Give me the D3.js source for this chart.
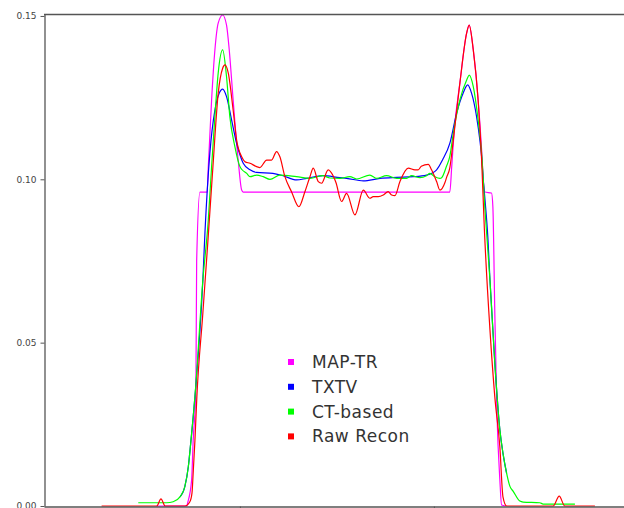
<!DOCTYPE html>
<html>
<head>
<meta charset="utf-8">
<script src="https://cdn.jsdelivr.net/npm/d3@7"></script>
<style>
  html, body { margin: 0; padding: 0; background: #fff; }
  svg { display: block; }
</style>
</head>
<body>
<svg id="chart" width="624" height="508"></svg>
<script>
// ---- data ----
const seriesNames = ["MAP-TR", "TXTV", "CT-based", "Raw Recon"];
const seriesColors = ["#ff00ff", "#0000ff", "#00ff00", "#ff0000"];
const yTicks = [0.00, 0.05, 0.10, 0.15];
const xTicks = [100, 200];

const mapTR = [[57,0],[72.5,0],[73.2,0.0013],[75.1,0.008],[75.9,0.020],[77.3,0.036],[77.7,0.075],[79.4,0.0961],[83.1,0.0961],[83.7,0.1039],[85.4,0.1243],[87.1,0.1396],[88.8,0.1478],[91.1,0.1503],[93.1,0.1472],[94.5,0.1396],[96.5,0.1243],[99.1,0.1059],[100.9,0.0967],[101.7,0.0961],[208.2,0.0961],[209.2,0.104],[210.5,0.115],[213.4,0.1295],[216.9,0.1448],[218.2,0.1472],[220.3,0.1396],[222.8,0.1243],[224.6,0.109],[225.6,0.0985],[226.3,0.0961],[229.7,0.0958],[230.4,0.0916],[231.4,0.0591],[232.5,0.0285],[234,0.008],[234.9,0.0003],[237,0]];

const txtv = [[69.1,0.0028],[71.6,0.0059],[73.4,0.012],[74.6,0.019],[76.8,0.0334],[80.9,0.0692],[82,0.084],[84.5,0.108],[87.1,0.1212],[89.3,0.1263],[91.1,0.1276],[93.1,0.1253],[95.7,0.1182],[98.3,0.111],[100,0.1075],[101.7,0.1049],[105.2,0.1029],[108.6,0.1021],[117,0.1018],[122.2,0.1011],[129.2,0.0998],[134.4,0.1003],[142.8,0.1011],[151.5,0.1005],[155,0.1003],[163.6,0.0995],[172.2,0.1003],[180.8,0.1006],[189.3,0.1008],[196.2,0.1013],[201.4,0.1029],[204.5,0.106],[208.2,0.111],[211.7,0.1202],[215.1,0.1264],[217.4,0.1289],[219.4,0.1264],[222,0.1192],[223.7,0.112],[224.6,0.1069],[225.3,0.101],[226.3,0.094],[227.8,0.0823],[228.9,0.0692],[231.4,0.0438],[234,0.0233],[235.6,0.0162],[237.5,0.01]];

const ctBased = [[47.6,0.001],[62.2,0.001],[65.6,0.0013],[69.1,0.0028],[71.6,0.0059],[73.4,0.012],[74.6,0.019],[76.8,0.0334],[80.9,0.0692],[83.7,0.0875],[85.4,0.1039],[87.1,0.1192],[88.8,0.1325],[91.1,0.1396],[93.1,0.1314],[94.8,0.1192],[97.4,0.11],[100,0.1039],[101,0.103],[103.5,0.1018],[105.2,0.1008],[108.6,0.1013],[112,0.1008],[115.5,0.1],[120.6,0.1013],[129.2,0.1008],[136.1,0.1003],[142.8,0.1011],[146.4,0.1004],[151.5,0.1003],[156.7,0.1008],[160.2,0.1001],[167,0.1013],[170.5,0.1003],[175.6,0.1011],[180.8,0.1003],[185.9,0.1003],[188.5,0.1011],[192.8,0.1005],[196.2,0.1011],[197.9,0.1018],[200.5,0.1008],[203.1,0.1003],[204,0.1005],[206.5,0.104],[208.2,0.107],[210,0.1141],[213.4,0.1243],[216.9,0.1304],[218.2,0.1319],[220.3,0.1284],[222.8,0.1182],[224.6,0.108],[226.3,0.091],[228.9,0.0692],[231.4,0.0438],[234,0.0233],[235.6,0.0162],[237.5,0.01],[239.2,0.006],[240.9,0.0045],[244.3,0.0015],[246,0.0012],[254.6,0.001],[256.3,0.0006],[272.7,0.0006]];

const rawRecon = [[28.7,0],[57.1,0],[59.3,0.0022],[61.5,0],[71.6,0],[74.2,0.0013],[75.3,0.004],[75.9,0.0101],[76.8,0.020],[77.8,0.0334],[80.9,0.0591],[83.6,0.082],[86.1,0.104],[88.8,0.1263],[91.1,0.134],[92.3,0.135],[94.0,0.1325],[96.5,0.1212],[98.3,0.112],[100.9,0.1069],[102.6,0.1054],[105.2,0.1049],[108.6,0.1039],[110.3,0.1036],[113.8,0.1059],[116.3,0.1059],[118.9,0.1085],[120.6,0.1069],[123.2,0.1008],[126.6,0.0962],[130.4,0.0916],[133.5,0.0962],[136.1,0.1008],[137.8,0.1034],[140.4,0.0993],[142.1,0.0988],[145.5,0.1029],[148.1,0.101],[149.5,0.099],[152.4,0.0932],[155,0.0957],[159.3,0.0891],[163.6,0.0967],[167,0.0942],[168.7,0.0947],[171.3,0.0947],[173.9,0.0952],[176.4,0.0962],[178.2,0.0952],[179.9,0.095],[182.5,0.0993],[186.8,0.1034],[190.2,0.1029],[191.9,0.1029],[193.5,0.104],[197.1,0.1046],[198.8,0.1029],[201.4,0.0993],[203.1,0.0967],[205.7,0.099],[206.5,0.1005],[208.2,0.1035],[210,0.112],[213.4,0.1295],[216.9,0.1448],[218.2,0.1472],[220.3,0.1396],[222.8,0.1243],[224.6,0.106],[226,0.085],[228.9,0.0539],[231.4,0.0334],[234,0.0181],[235.6,0.0028],[237.5,0],[261.5,0],[264.6,0.003],[267.5,0],[283,0]];

const seriesData = [mapTR, txtv, ctBased, rawRecon];

// ---- layout ----
const svg = d3.select("#chart");
const plotLeft = 44, plotRight = 624, plotTop = 14, plotBottom = 506;

const x = d3.scaleLinear().domain([-1, 298]).range([plotLeft, plotRight]);
const y = d3.scaleLinear().domain([0, 0.1506]).range([plotBottom, plotTop]);

// lines
const line = d3.line()
  .x(d => x(d[0]))
  .y(d => y(d[1]))
  .curve(d3.curveMonotoneX);

svg.append("g").selectAll("path")
  .data(seriesData)
  .join("path")
  .attr("fill", "none")
  .attr("stroke", (d, i) => seriesColors[i])
  .attr("stroke-width", 1.2)
  .attr("stroke-linejoin", "round")
  .attr("d", line);

// top border
svg.append("line")
  .attr("x1", plotLeft).attr("x2", plotRight)
  .attr("y1", plotTop + 0.5).attr("y2", plotTop + 0.5)
  .attr("stroke", "#555").attr("stroke-width", 1.3);

// y axis
const yAxis = d3.axisLeft(y)
  .tickValues(yTicks)
  .tickFormat(d3.format(".2f"))
  .tickSize(4)
  .tickSizeOuter(0)
  .tickPadding(4);
const gy = svg.append("g")
  .attr("transform", `translate(${plotLeft + 0.5},0)`)
  .call(yAxis);
gy.select(".domain").attr("stroke", "#555").attr("stroke-width", 1.3);
gy.selectAll(".tick line").attr("stroke", "#555");
gy.selectAll(".tick text")
  .attr("fill", "#444")
  .style("font-family", "'DejaVu Sans', Verdana, sans-serif")
  .style("font-size", "9px");

// x axis
const xAxis = d3.axisBottom(x)
  .tickValues(xTicks)
  .tickFormat("")
  .tickSize(3)
  .tickSizeOuter(0);
const gx = svg.append("g")
  .attr("transform", `translate(0,${plotBottom + 0.5})`)
  .call(xAxis);
gx.select(".domain").attr("stroke", "#555").attr("stroke-width", 1.3);
gx.selectAll(".tick line").attr("stroke", "#555");

// legend
const legend = svg.append("g").attr("transform", "translate(288,359)");
const rowH = 24.8;
const items = legend.selectAll("g")
  .data(seriesNames)
  .join("g")
  .attr("transform", (d, i) => `translate(0,${i * rowH})`);
items.append("rect")
  .attr("x", 0).attr("y", 0)
  .attr("width", 6).attr("height", 6)
  .attr("fill", (d, i) => seriesColors[i]);
items.append("text")
  .attr("x", 24).attr("y", 9)
  .attr("fill", "#333")
  .style("font-family", "'DejaVu Sans', Verdana, sans-serif")
  .style("font-size", "17px")
  .style("letter-spacing", "0.5px")
  .text(d => d);
</script>
</body>
</html>
